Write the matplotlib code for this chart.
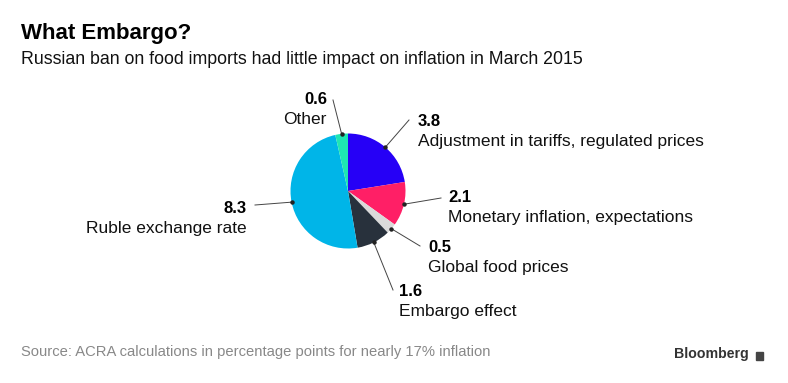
"""
What Embargo? - contributions to Russian inflation, March 2015.
"""

import numpy as np
import matplotlib.pyplot as plt
from matplotlib.patches import Rectangle

plt.rcParams["font.family"] = ["Liberation Sans", "DejaVu Sans"]

# data, clockwise from 12 o'clock
VALUES = [3.8, 2.1, 0.5, 1.6, 8.3, 0.6]
VALUE_LABELS = ["3.8", "2.1", "0.5", "1.6", "8.3", "0.6"]
NAMES = [
    "Adjustment in tariffs, regulated prices",
    "Monetary inflation, expectations",
    "Global food prices",
    "Embargo effect",
    "Ruble exchange rate",
    "Other",
]
COLORS = ["#2600f6", "#ff1f66", "#dadada", "#28313c", "#00b5e8", "#1fe6b2"]

W, H = 788, 383

# label layout in pixels (top-left origin): text anchor x, number baseline y, alignment, line end
LABEL_POS = [
    (418, 126, "left", (409, 120)),
    (448, 202, "left", (441, 198)),
    (428, 252, "left", (420, 246)),
    (399, 296, "left", (393, 290)),
    (247, 213, "right", (255, 205)),
    (327, 104, "right", (333, 100)),
]


def py(y):
    # pixel row -> data y
    return H - y


fig = plt.figure(figsize=(W / 100, H / 100), dpi=100)
ax = fig.add_axes([0, 0, 1, 1])

center = (348, py(191))
radius = 57.5
wedges, _ = ax.pie(
    VALUES,
    colors=COLORS,
    startangle=90,
    counterclock=False,
    center=center,
    radius=radius,
    wedgeprops={"linewidth": 0},
    frame=True,
)
ax.set_xlim(0, W)
ax.set_ylim(0, H)
ax.set_aspect("equal")
ax.axis("off")

for wedge, val, name, (tx, ty, ha, (lx, ly)) in zip(
    wedges, VALUE_LABELS, NAMES, LABEL_POS
):
    mid = np.deg2rad((wedge.theta1 + wedge.theta2) / 2)
    ex = center[0] + radius * np.cos(mid)
    ey = center[1] + radius * np.sin(mid)
    ax.plot([ex, lx], [ey, py(ly)], color="#444444", lw=0.7)
    ax.plot(ex, ey, "o", color="#222222", ms=2.2)
    ax.text(tx, py(ty), val, ha=ha, va="baseline", fontsize=12,
            fontweight="bold", color="#000000")
    ax.text(tx, py(ty + 20), name, ha=ha, va="baseline", fontsize=12.5,
            color="#111111")

ax.text(21, py(39), "What Embargo?", ha="left", va="baseline",
        fontsize=16, fontweight="bold", color="#000000")
ax.text(21, py(64), "Russian ban on food imports had little impact on inflation in March 2015",
        ha="left", va="baseline", fontsize=12.8, color="#111111")
ax.text(21, py(356), "Source: ACRA calculations in percentage points for nearly 17% inflation",
        ha="left", va="baseline", fontsize=10.6, color="#888888")
ax.text(749, py(358), "Bloomberg", ha="right", va="baseline",
        fontsize=10.2, fontweight="bold", color="#333333")
ax.add_patch(Rectangle((756, py(360)), 7, 8, color="#444444"))

fig.savefig("out.png", dpi=100)
